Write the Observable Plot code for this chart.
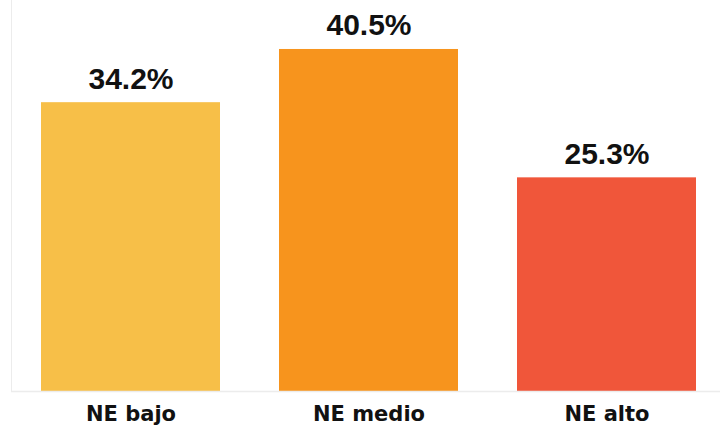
<!DOCTYPE html>
<html>
<head>
<meta charset="utf-8">
<script src="https://cdn.jsdelivr.net/npm/d3@7"></script>
<script src="https://cdn.jsdelivr.net/npm/@observablehq/plot@0.6"></script>
<style>
  html, body { margin: 0; padding: 0; background: #fff; }
  #chart svg { display: block; }
</style>
</head>
<body>
<div id="chart"></div>
<script>
const categories = ["NE bajo", "NE medio", "NE alto"];
const values = [34.2, 40.5, 25.3];
const labels = ["34.2%", "40.5%", "25.3%"];
const colors = ["#F7BF48", "#F7941D", "#F0563A"];

const data = categories.map((c, i) => ({cat: c, value: values[i], label: labels[i]}));

const chart = Plot.plot({
  width: 720,
  height: 430,
  marginLeft: 11,
  marginRight: 0,
  marginTop: 0,
  marginBottom: 39,
  style: {background: "#fff"},
  x: {domain: categories, range: [11, 725], paddingInner: 0.248, paddingOuter: 0.124, label: null},
  y: {domain: [0, 46.3], axis: null},
  color: {domain: categories, range: colors},
  marks: [
    Plot.frame({anchor: "left", stroke: "#ececec"}),
    Plot.barY(data, {x: "cat", y: "value", fill: "cat"}),
    Plot.ruleY([0], {stroke: "#ececec", strokeWidth: 1.5}),
    Plot.text(data, {
      x: "cat", y: "value", text: "label", dy: -14, lineAnchor: "bottom",
      fontSize: 30, fontWeight: "bold", fontFamily: "Liberation Sans", fill: "#111"
    }),
    Plot.axisX({
      tickSize: 0, tickPadding: 15, label: null,
      fontSize: 21, fontWeight: "bold", fontFamily: "DejaVu Sans", fill: "#111"
    })
  ]
});
document.getElementById("chart").appendChild(chart);
</script>
</body>
</html>
